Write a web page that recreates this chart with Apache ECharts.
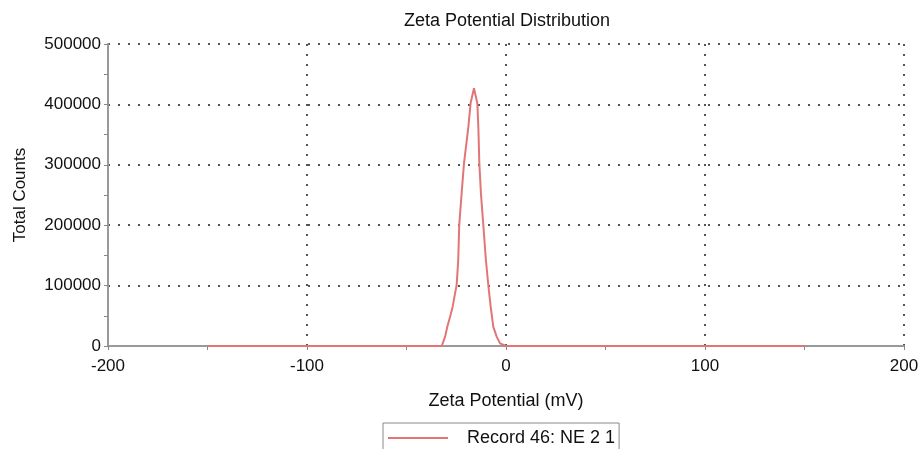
<!DOCTYPE html>
<html>
<head>
<meta charset="utf-8">
<title>Zeta Potential Distribution</title>
<script src="https://cdn.jsdelivr.net/npm/echarts@6/dist/echarts.min.js"></script>
<style>
  html, body { margin: 0; padding: 0; background: #fff; }
  #zetaChart { width: 921px; height: 449px; }
</style>
</head>
<body>
<div id="zetaChart"></div>
<script>
// zeta potential (mV) and total counts
var zetaMv = [-150, -32.3, -30.6, -29.5, -28.1, -26.8, -25.6, -24.8, -24.0, -23.5, -22.3, -21.1, -18.9, -17.8, -16.1,
  -14.4, -13.9, -13.4, -12.6, -11.4, -10.1, -8.9, -7.7, -6.4, -4.7, -3.0, 0, 150]
var totalCounts = [0, 0, 15500, 32000, 48600, 65100, 87200, 101000, 142400, 200300, 252800, 302500, 363100, 401800, 426600,
  401800, 363100, 302500, 252800, 200300, 142400, 101000, 65100, 32000, 15500, 4400, 0, 0]
var seriesName = 'Record 46: NE 2 1'

var points = zetaMv.map(function (x, i) { return [x, totalCounts[i]] })

var font = 'Liberation Sans, Arial, sans-serif'
var dotted = { color: '#555', width: 2, type: [2, 8] }

var myChart = echarts.init(document.getElementById('zetaChart'))
myChart.setOption({
  animation: false,
  title: {
    text: 'Zeta Potential Distribution',
    left: 502,
    textAlign: 'center',
    top: 7,
    textStyle: { color: '#111', fontSize: 18, fontWeight: 'normal', fontFamily: font }
  },
  legend: {
    data: [seriesName],
    left: 383,
    top: 423,
    padding: [6, 4, 12, 5],
    borderColor: '#888',
    borderWidth: 1,
    icon: 'rect',
    itemWidth: 60,
    itemHeight: 2,
    textStyle: { color: '#111', fontSize: 18, fontFamily: font, padding: [0, 0, 0, 14] }
  },
  grid: { left: 108, right: 17, top: 44, bottom: 103, containLabel: false, outerBoundsMode: 'none' },
  xAxis: {
    type: 'value',
    min: -200,
    max: 200,
    interval: 100,
    name: 'Zeta Potential (mV)',
    nameLocation: 'middle',
    nameGap: 46,
    nameTextStyle: { color: '#111', fontSize: 18, fontFamily: font },
    axisLine: { onZero: false, lineStyle: { color: '#999', width: 2 } },
    axisTick: { show: true, length: 4, lineStyle: { color: '#888' } },
    minorTick: { show: true, splitNumber: 2, length: 4, lineStyle: { color: '#888' } },
    axisLabel: { color: '#111', fontSize: 17, fontFamily: font, margin: 12 },
    splitLine: { show: true, lineStyle: dotted }
  },
  yAxis: {
    type: 'value',
    min: 0,
    max: 500000,
    interval: 100000,
    name: 'Total Counts',
    nameLocation: 'middle',
    nameGap: 79,
    nameTextStyle: { color: '#111', fontSize: 17, fontFamily: font },
    axisLine: { show: true, onZero: false, lineStyle: { color: '#999', width: 2 } },
    axisTick: { show: true, length: 4, lineStyle: { color: '#888' } },
    minorTick: { show: true, splitNumber: 2, length: 4, lineStyle: { color: '#888' } },
    axisLabel: {
      color: '#111',
      fontSize: 17,
      fontFamily: font,
      margin: 7,
      formatter: function (v) { return String(v) }
    },
    splitLine: { show: true, lineStyle: dotted }
  },
  series: [
    {
      name: seriesName,
      type: 'line',
      data: points,
      symbol: 'none',
      color: '#e27676',
      lineStyle: { color: '#e27676', width: 2 }
    }
  ]
})
</script>
</body>
</html>
